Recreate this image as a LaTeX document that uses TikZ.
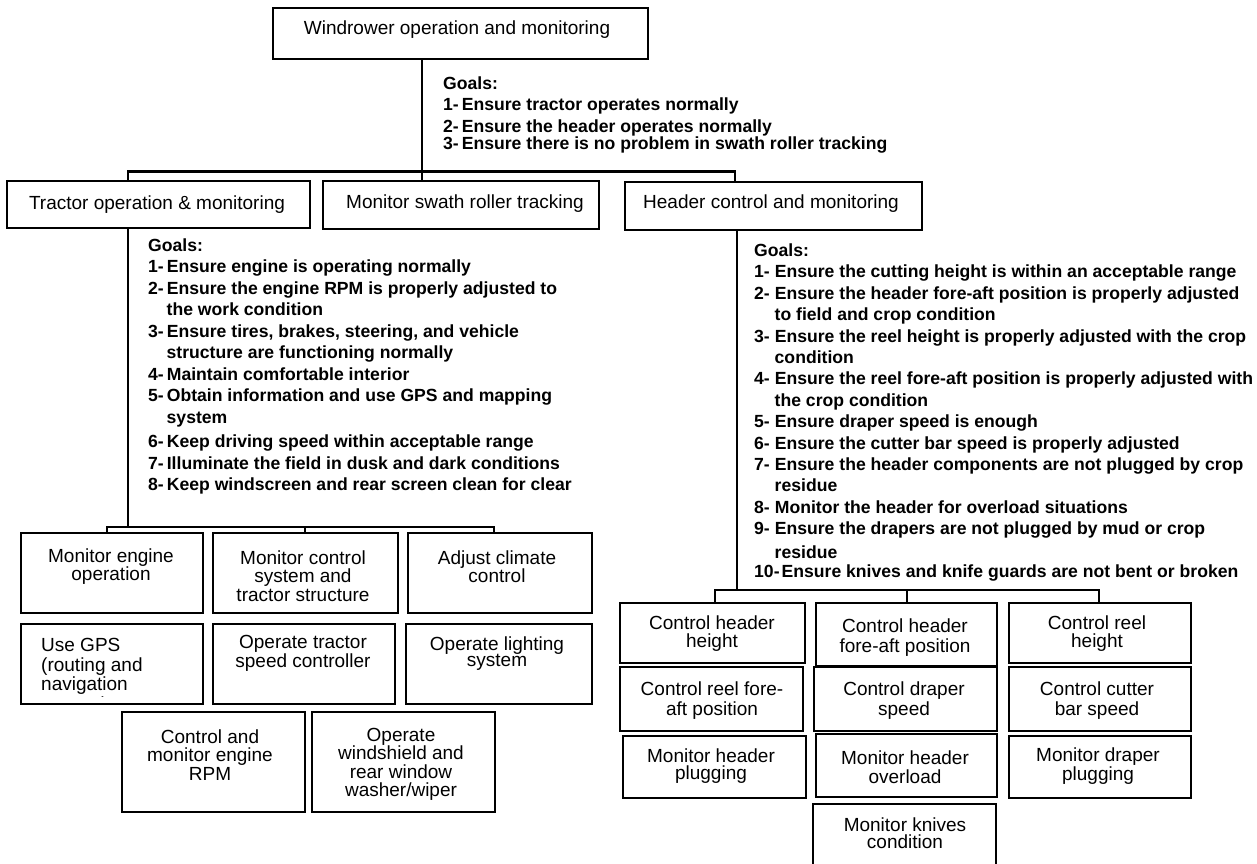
\documentclass[tikz,border=0pt]{standalone}
\usepackage{fontspec}
\setmainfont{Liberation Sans}
\usetikzlibrary{fit}
\newcommand\mkbox[5]{\node[bx, fit={(#2,#3) (#4,#5)}] (#1) {};}
\begin{document}
\begin{tikzpicture}[x=1pt,y=-1pt,
  bx/.style={draw=black, line width=2.6pt, inner sep=0pt, fill=white},
  lbl/.style={font=\fontsize{19}{18.5}\selectfont, align=center, inner sep=0pt, yshift=-2.5pt},
  tight/.style={font=\fontsize{19}{16.5}\selectfont},
  wide/.style={font=\fontsize{19}{20}\selectfont},
  goal/.style={font=\fontsize{17.6}{21.5}\selectfont\bfseries, align=left, inner sep=0pt, anchor=north west},
  ln/.style={line width=2.3pt}]
\useasboundingbox (0,0) rectangle (1257,863);
\fill[white] (0,0) rectangle (1257,863);
\clip (0,0) rectangle (1257,863);

% ---------- boxes ----------
\mkbox{top}{273}{8}{648}{59}
\mkbox{trac}{7}{181}{310}{228}
\mkbox{swath}{323}{181}{599}{229}
\mkbox{head}{625}{182}{922}{230}

\mkbox{me}{21}{533}{203}{613}
\mkbox{mc}{213}{533}{398}{613}
\mkbox{ac}{408}{533}{592}{613}
\mkbox{gps}{21}{624}{203}{704}
\mkbox{ts}{213}{624}{395}{704}
\mkbox{ls}{406}{624}{592}{704}
\mkbox{rpm}{122}{712}{305}{812}
\mkbox{ww}{312}{712}{495}{812}

\mkbox{chh}{620}{603}{805}{663}
\mkbox{chf}{816}{603}{997}{666}
\mkbox{crh}{1009}{603}{1191}{663}
\mkbox{crf}{620}{667}{803}{731}
\mkbox{cds}{814}{667}{997}{731}
\mkbox{ccb}{1009}{667}{1191}{731}
\mkbox{mhp}{623}{736}{806}{798}
\mkbox{mho}{816}{734}{997}{797}
\mkbox{mdp}{1009}{736}{1191}{798}
\mkbox{mkc}{813}{804}{996}{880}

% ---------- connectors ----------
\coordinate (b1L) at (128,171.5);
\coordinate (b1M) at (422,171.5);
\coordinate (b1R) at (735,171.5);
\draw[ln] (b1M |- top.south) -- (b1M |- swath.north);
\draw[ln] (b1L |- trac.north) -- (b1L) -- (b1R) -- (b1R |- head.north);

\coordinate (v2) at (128,527);
\coordinate (b2L) at (107,527);
\coordinate (b2M) at (305,527);
\coordinate (b2R) at (494,527);
\draw[ln] (v2 |- trac.south) -- (v2);
\draw[ln] (b2L |- me.north) -- (b2L) -- (b2R) -- (b2R |- ac.north);
\draw[ln] (b2M) -- (b2M |- mc.north);

\coordinate (v3) at (737,590);
\coordinate (b3L) at (715,590);
\coordinate (b3M) at (907,590);
\coordinate (b3R) at (1099,590);
\draw[ln] (v3 |- head.south) -- (v3);
\draw[ln] (b3L |- chh.north) -- (b3L) -- (b3R) -- (b3R |- crh.north);
\draw[ln] (b3M) -- (b3M |- chf.north);

% ---------- box labels ----------
\node[lbl] (top-t) at (457,27) {Windrower operation and monitoring};
\node[lbl] (trac-t) at (157,202) {Tractor operation \& monitoring};
\node[lbl] (swath-t) at (465,201) {Monitor swath roller tracking};
\node[lbl] (head-t) at (771,201) {Header control and monitoring};

\node[lbl] (me-t) at (111,564) {Monitor engine\\operation};
\node[lbl] (mc-t) at (303,573.5) {Monitor control\\system and\\tractor structure};
\node[lbl] (ac-t) at (497,564) {Adjust climate\\control};
\begin{scope}
\clip (23,626) rectangle (201,696);
\node[lbl, yshift=0pt, align=left, anchor=north west, font=\fontsize{19}{19.5}\selectfont] (gps-t) at (41,636) {Use GPS\\(routing and\\navigation\\system)};
\end{scope}
\node[lbl, tight] (ts-t) at (303,651) {Operate tractor\\speed controller};
\node[lbl, tight] (ls-t) at (497,651) {Operate lighting\\system};
\node[lbl] (rpm-t) at (210,752.5) {Control and\\monitor engine\\RPM};
\node[lbl] (ww-t) at (401,762) {Operate\\windshield and\\rear window\\washer/wiper};

\node[lbl] (chh-t) at (712,631) {Control header\\height};
\node[lbl, wide] (chf-t) at (905,635) {Control header\\fore-aft position};
\node[lbl] (crh-t) at (1097,631) {Control reel\\height};
\node[lbl, wide] (crf-t) at (712,698) {Control reel fore-\\aft position};
\node[lbl, wide] (cds-t) at (904,698) {Control draper\\speed};
\node[lbl, wide] (ccb-t) at (1097,698) {Control cutter\\bar speed};
\node[lbl, tight] (mhp-t) at (711,763.5) {Monitor header\\plugging};
\node[lbl] (mho-t) at (905,764.5) {Monitor header\\overload};
\node[lbl, tight] (mdp-t) at (1098,763.5) {Monitor draper\\plugging};
\node[lbl, tight] (mkc-t) at (905,830.5) {Monitor knives\\condition};

% ---------- goals ----------
\node[goal] (g0) at (443,76.5) {Goals:\\
1-\hspace{3pt}Ensure tractor operates normally\\
2-\hspace{3pt}Ensure the header operates normally\\[-4.5pt]
3-\hspace{3pt}Ensure there is no problem in swath roller tracking};

\node[goal] (g1) at (148,238.5) {Goals:\\
1-\hspace{3pt}Ensure engine is operating normally\\
2-\hspace{3pt}Ensure the engine RPM is properly adjusted to\\
\hspace*{18.5pt}the work condition\\
3-\hspace{3pt}Ensure tires, brakes, steering, and vehicle\\
\hspace*{18.5pt}structure are functioning normally\\
4-\hspace{3pt}Maintain comfortable interior\\
5-\hspace{3pt}Obtain information and use GPS and mapping\\
\hspace*{18.5pt}system\\[3pt]
6-\hspace{3pt}Keep driving speed within acceptable range\\
7-\hspace{3pt}Illuminate the field in dusk and dark conditions\\
8-\hspace{3pt}Keep windscreen and rear screen clean for clear};

\node[goal, font=\fontsize{17.6}{21.4}\selectfont\bfseries] (g2) at (754,243.5) {Goals:\\
1-\hspace{5pt}Ensure the cutting height is within an acceptable range\\
2-\hspace{5pt}Ensure the header fore-aft position is properly adjusted\\
\hspace*{20.5pt}to field and crop condition\\
3-\hspace{5pt}Ensure the reel height is properly adjusted with the crop\\
\hspace*{20.5pt}condition\\
4-\hspace{5pt}Ensure the reel fore-aft position is properly adjusted with\\
\hspace*{20.5pt}the crop condition\\
5-\hspace{5pt}Ensure draper speed is enough\\
6-\hspace{5pt}Ensure the cutter bar speed is properly adjusted\\
7-\hspace{5pt}Ensure the header components are not plugged by crop\\
\hspace*{20.5pt}residue\\
8-\hspace{5pt}Monitor the header for overload situations\\
9-\hspace{5pt}Ensure the drapers are not plugged by mud or crop\\[2pt]
\hspace*{20.5pt}residue\\[-2pt]
10-\hspace{2pt}Ensure knives and knife guards are not bent or broken};
\end{tikzpicture}
\end{document}
